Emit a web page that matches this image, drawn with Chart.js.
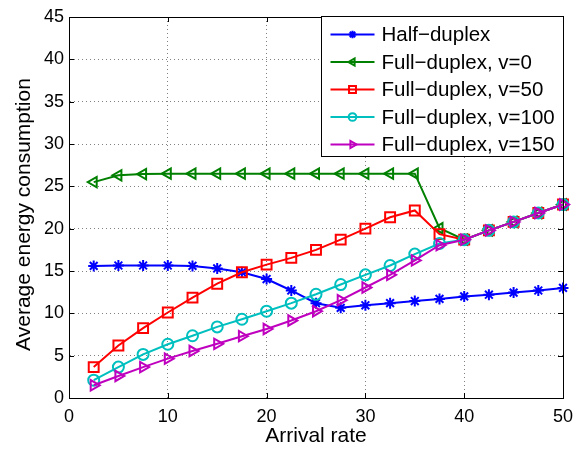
<!DOCTYPE html>
<html>
<head>
<meta charset="utf-8">
<script src="https://cdn.jsdelivr.net/npm/chart.js@4"></script>
<style>
  html, body { margin: 0; padding: 0; background: #fff; }
  #wrap { width: 585px; height: 453px; }
</style>
</head>
<body>
<div id="wrap"><canvas id="energy-chart"></canvas></div>
<script>
// Data
const arrivalRate = [2.5, 5, 7.5, 10, 12.5, 15, 17.5, 20, 22.5, 25, 27.5, 30, 32.5, 35, 37.5, 40, 42.5, 45, 47.5, 50];
const halfDuplex = [15.6, 15.65, 15.65, 15.65, 15.6, 15.3, 14.85, 14.05, 12.7, 11.2, 10.65, 10.95, 11.2, 11.45, 11.7, 12.0, 12.2, 12.45, 12.7, 13.0];
const fullDuplexV0 = [25.5, 26.3, 26.45, 26.5, 26.5, 26.5, 26.5, 26.5, 26.5, 26.5, 26.5, 26.5, 26.5, 26.5, 20.05, 18.7, 19.8, 20.8, 21.85, 22.85];
const fullDuplexV50 = [3.65, 6.2, 8.25, 10.1, 11.85, 13.5, 14.85, 15.75, 16.55, 17.5, 18.7, 20.0, 21.35, 22.15, 19.35, 18.7, 19.8, 20.8, 21.85, 22.85];
const fullDuplexV100 = [2.1, 3.65, 5.15, 6.35, 7.35, 8.4, 9.3, 10.25, 11.2, 12.25, 13.4, 14.55, 15.65, 17.0, 18.25, 18.7, 19.8, 20.8, 21.85, 22.85];
const fullDuplexV150 = [1.5, 2.6, 3.65, 4.65, 5.55, 6.4, 7.3, 8.15, 9.15, 10.25, 11.55, 13.05, 14.55, 16.25, 18.05, 18.7, 19.8, 20.8, 21.85, 22.85];

const seriesLabels = ['Half\u2212duplex', 'Full\u2212duplex, v=0', 'Full\u2212duplex, v=50', 'Full\u2212duplex, v=100', 'Full\u2212duplex, v=150'];
const seriesValues = [halfDuplex, fullDuplexV0, fullDuplexV50, fullDuplexV100, fullDuplexV150];
const seriesColors = ['#0000ff', '#008000', '#ff0000', '#00bfbf', '#bf00bf'];
const seriesMarkers = ['star', 'triangle', 'rect', 'circle', 'triangle'];
const seriesRotation = [0, -90, 0, 0, 90];
const seriesRadius = [5.5, 6, 7, 5.5, 6];

const xTicks = [0, 10, 20, 30, 40, 50];
const yTicks = [0, 5, 10, 15, 20, 25, 30, 35, 40, 45];
const yTitle = 'Average energy consumption';

const FONT = "'Liberation Sans', Arial, Helvetica, sans-serif";
Chart.defaults.color = '#000';
Chart.defaults.font.family = FONT;

function toPoints(values) {
  return arrivalRate.map((x, i) => ({ x: x, y: values[i] }));
}

// Axes box, inward tick marks, y label and boxed legend (MATLAB style)
const matlabFrame = {
  id: 'matlabFrame',
  afterDraw(chart) {
    const ctx = chart.ctx;
    const a = chart.chartArea;
    const xs = chart.scales.x;
    const ys = chart.scales.y;
    ctx.save();
    ctx.strokeStyle = '#000';
    ctx.lineWidth = 1;
    ctx.setLineDash([]);
    ctx.beginPath();
    xTicks.forEach((v) => {
      const px = Math.round(xs.getPixelForValue(v)) + 0.5;
      ctx.moveTo(px, a.bottom); ctx.lineTo(px, a.bottom - 5);
      ctx.moveTo(px, a.top); ctx.lineTo(px, a.top + 5);
    });
    yTicks.forEach((v) => {
      const py = Math.round(ys.getPixelForValue(v)) + 0.5;
      ctx.moveTo(a.left, py); ctx.lineTo(a.left + 5, py);
      ctx.moveTo(a.right, py); ctx.lineTo(a.right - 5, py);
    });
    ctx.stroke();
    ctx.strokeRect(Math.round(a.left) + 0.5, Math.round(a.top) + 0.5,
      Math.round(a.right - a.left), Math.round(a.bottom - a.top));

    // y axis label, slightly below the axis centre like the original
    ctx.save();
    ctx.translate(24, (a.top + a.bottom) / 2 + 7);
    ctx.rotate(-Math.PI / 2);
    ctx.fillStyle = '#000';
    ctx.font = '21px ' + FONT;
    ctx.textAlign = 'center';
    ctx.textBaseline = 'middle';
    ctx.fillText(yTitle, 0, 0);
    ctx.restore();

    // legend
    const boxW = 242, boxH = 140, rowH = 27.5;
    const bx = Math.round(a.right) - boxW + 0.5;
    const by = Math.round(a.top) - 1 + 0.5;
    ctx.fillStyle = '#fff';
    ctx.fillRect(bx, by, boxW, boxH);
    ctx.strokeRect(bx, by, boxW, boxH);
    ctx.font = '20.5px ' + FONT;
    ctx.textBaseline = 'middle';
    ctx.textAlign = 'left';
    chart.data.datasets.forEach((ds, i) => {
      const cy = by + 18 + i * rowH;
      ctx.strokeStyle = ds.borderColor;
      ctx.lineWidth = 2;
      ctx.beginPath();
      ctx.moveTo(bx + 9, cy);
      ctx.lineTo(bx + 53, cy);
      ctx.stroke();
      ctx.fillStyle = 'rgba(0,0,0,0)';
      Chart.helpers.drawPoint(ctx, {
        pointStyle: ds.pointStyle,
        rotation: ds.pointRotation,
        radius: ds.pointRadius * 0.7,
        borderWidth: 1.5
      }, bx + 31, cy);
      ctx.fillStyle = '#000';
      ctx.fillText(ds.label, bx + 60, cy + 1);
    });
    ctx.restore();
  }
};

const ctx = document.getElementById('energy-chart').getContext('2d');
window.energyChart = new Chart(ctx, {
  type: 'line',
  data: {
    datasets: seriesLabels.map((label, i) => ({
      label: label,
      data: toPoints(seriesValues[i]),
      borderColor: seriesColors[i],
      backgroundColor: seriesColors[i],
      borderWidth: 2,
      pointStyle: seriesMarkers[i],
      pointRotation: seriesRotation[i],
      pointRadius: seriesRadius[i],
      pointBorderWidth: 2,
      pointBorderColor: seriesColors[i],
      pointBackgroundColor: 'rgba(0,0,0,0)',
      tension: 0,
      clip: false,
      order: seriesLabels.length - i
    }))
  },
  options: {
    responsive: true,
    maintainAspectRatio: false,
    animation: false,
    layout: { padding: { left: 0, top: 17, right: 22, bottom: 0 } },
    plugins: {
      legend: { display: false },
      tooltip: { enabled: false }
    },
    scales: {
      x: {
        type: 'linear',
        min: 0,
        max: 50,
        afterBuildTicks: (scale) => { scale.ticks = xTicks.map((v) => ({ value: v })); },
        afterFit: (scale) => { scale.height = 55; },
        ticks: { font: { size: 18 }, padding: 8, maxRotation: 0 },
        grid: { color: 'rgba(0,0,0,0.5)', lineWidth: 1, drawTicks: false },
        border: { display: true, color: '#000', dash: [1, 3] },
        title: { display: true, text: 'Arrival rate', font: { size: 21 }, padding: { top: 0, bottom: 4 } }
      },
      y: {
        min: 0,
        max: 45,
        afterBuildTicks: (scale) => { scale.ticks = yTicks.map((v) => ({ value: v })); },
        afterFit: (scale) => { scale.width = 69; },
        ticks: { font: { size: 18 }, padding: 5 },
        grid: { color: 'rgba(0,0,0,0.5)', lineWidth: 1, drawTicks: false },
        border: { display: true, color: '#000', dash: [1, 3] },
        title: { display: false }
      }
    }
  },
  plugins: [matlabFrame]
});
</script>
</body>
</html>
